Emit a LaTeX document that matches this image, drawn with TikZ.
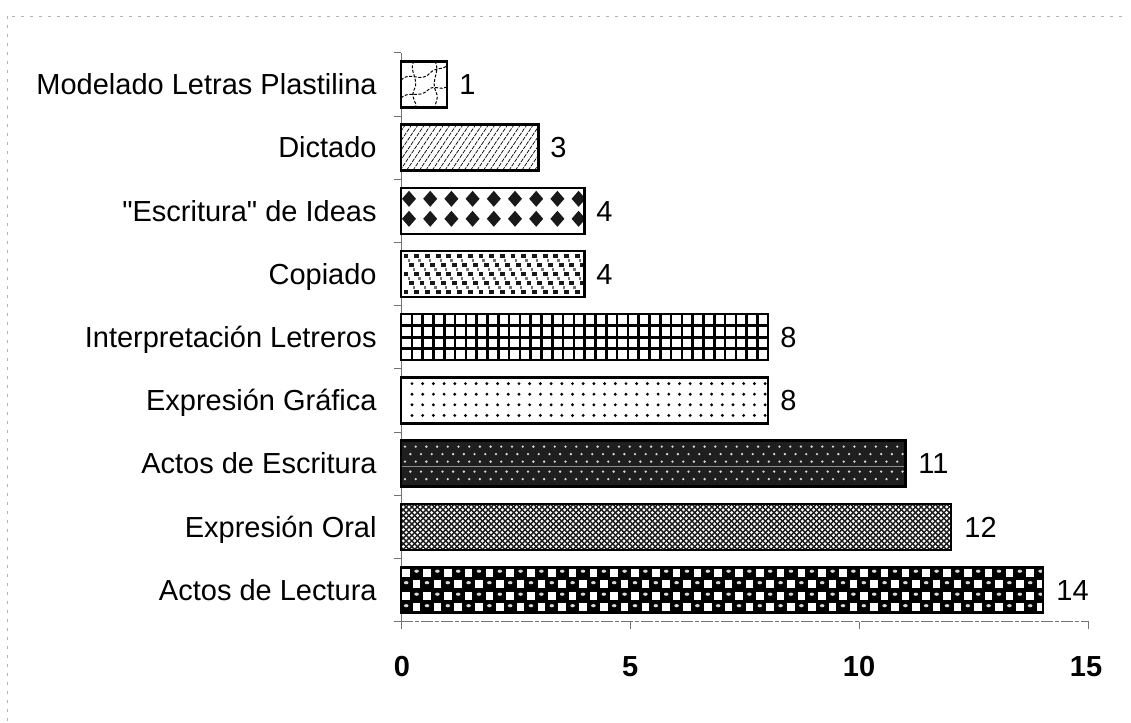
\documentclass[tikz,border=0pt]{standalone}
\usepackage{fontspec}
\setmainfont{Liberation Sans}[Ligatures=TeXOff]
\begin{document}
\begin{tikzpicture}[x=0.5pt,y=-0.5pt,
  lab/.style={anchor=base east,font=\fontsize{14.5}{16}\selectfont,inner sep=0pt},
  val/.style={anchor=base west,font=\fontsize{14.5}{16}\selectfont,inner sep=0pt},
  ticklab/.style={anchor=base,font=\fontsize{14.5}{16}\selectfont\bfseries,inner sep=0pt},
  barline/.style={draw=black,line width=1.25pt},
  axisline/.style={draw=black!55,line width=0.5pt},
  frameline/.style={draw=black!30,line width=0.5pt,dash pattern=on 1.5pt off 3pt},
  hatch/.style={draw=black,line width=0.35pt,dash pattern=on 2pt off 0.6pt}]
\useasboundingbox (0,0) rectangle (1131,723);

% faint frame of the scan
\draw[frameline] (12,16) -- (1128,16);
\draw[frameline] (7,16) -- (7,723);

% ---------- axes ----------
\draw[axisline] (401,52.8) -- (401,621.6);
\foreach \k in {0,...,9}
  \draw[axisline] (394,{52.8+\k*63.2}) -- (401,{52.8+\k*63.2});
\draw[axisline,dash pattern=on 6pt off 1pt on 2pt off 1pt] (401,621.6) -- (1088.8,621.6);
\foreach \t in {401,630.3,859.5,1088.8}
  \draw[axisline] (\t,621.6) -- (\t,629);

% ---------- bar 0: Modelado (1) ----------
\begin{scope}
\clip (401,61.4) rectangle (446.85,107.4);
\draw[black,line width=0.5pt,dash pattern=on 1.5pt off 0.8pt]
  (401,80) .. controls (411,70) and (420,84) .. (430,73) .. controls (436,67) and (442,70) .. (447,66)
  (401,98) .. controls (409,90) and (419,99) .. (428,90) .. controls (434,84) and (441,91) .. (447,87)
  (414,61) .. controls (408,70) and (420,80) .. (414,90) .. controls (410,99) and (418,103) .. (416,108)
  (435,61) .. controls (441,72) and (430,80) .. (436,92) .. controls (440,100) and (433,104) .. (436,108);
\end{scope}
\draw[barline] (401,61.4) rectangle (446.85,107.4);

% ---------- bar 1: Dictado (3) ----------
\begin{scope}
\clip (401,124.6) rectangle (538.55,170.6);
\foreach \i in {0,...,27}
  \draw[hatch] ({368+\i*6.4},170.6) -- ++(31,-46);
\end{scope}
\draw[barline] (401,124.6) rectangle (538.55,170.6);

% ---------- bar 2: "Escritura" de Ideas (4) ----------
\begin{scope}
\clip (401,187.8) rectangle (584.4,233.8);
\foreach \c in {0,...,8}
  \foreach \y in {198.8,218.8}
    \fill[black!90] ({409+\c*21.2},\y-8) -- ++(7,8) -- ++(-7,8) -- ++(-7,-8) -- cycle;
\end{scope}
\draw[barline] (401,187.8) rectangle (584.4,233.8);

% ---------- bar 3: Copiado (4) ----------
\begin{scope}
\clip (401,251) rectangle (584.4,297);
\foreach \y/\off in {256/0,265/5.35,274/0,283/5.35,292/0}
  \foreach \c in {0,...,17}
    \fill[black!90] ({406+\c*10.7+\off-2.4},\y-2.4) rectangle ++(4.8,4.8);
\foreach \y/\off in {260.5/2.7,269.5/8,278.5/2.7,287.5/8}
  \foreach \c in {0,...,17}
    \fill[black!55] ({406+\c*10.7+\off-1.2},\y-1.2) rectangle ++(2.4,2.4);
\end{scope}
\draw[barline] (401,251) rectangle (584.4,297);

% ---------- bar 4: Interpretación Letreros (8) ----------
\begin{scope}
\clip (401,314.2) rectangle (767.8,360.2);
\foreach \c in {1,...,34}
  \draw[black,line width=1.3pt] ({401+\c*10.8},314.2) -- ++(0,46);
\foreach \r in {1,2,3}
  \draw[black,line width=1.3pt] (401,{314.2+\r*11.5}) -- (767.8,{314.2+\r*11.5});
\end{scope}
\draw[barline] (401,314.2) rectangle (767.8,360.2);

% ---------- bar 5: Expresión Gráfica (8) ----------
\begin{scope}
\clip (401,377.4) rectangle (767.8,423.4);
\foreach \r in {0,...,3}
  \foreach \c in {0,...,33}
    \fill[black] ({412+\c*10.7},{383.6+\r*10.6}) circle (1.6);
\end{scope}
\draw[barline] (401,377.4) rectangle (767.8,423.4);

% ---------- bar 6: Actos de Escritura (11) ----------
\begin{scope}
\clip (401,440.6) rectangle (905.35,486.6);
\fill[black!88] (401,440.6) rectangle (905.35,486.6);
\foreach \dy/\off in {6/0,13.5/5.35,21/0,31/5.35,38.5/0}
  \foreach \c in {0,...,47}
    \fill[black!15] ({405+\c*10.7+\off},{440.6+\dy}) circle (1.3);
\draw[black!45,line width=0.6pt] (401,466.6) -- (905.35,466.6);
\end{scope}
\draw[barline] (401,440.6) rectangle (905.35,486.6);

% ---------- bar 7: Expresión Oral (12) ----------
\begin{scope}
\clip (401,503.8) rectangle (951.2,549.8);
\foreach \x in {352,357.66,...,955}
  \draw[black!90,line width=0.7pt] (\x,549.8) -- ++(46,-46);
\foreach \x in {352,357.66,...,955}
  \draw[black!90,line width=0.7pt] (\x,503.8) -- ++(46,46);
\end{scope}
\draw[barline] (401,503.8) rectangle (951.2,549.8);

% ---------- bar 8: Actos de Lectura (14) ----------
\begin{scope}
\clip (401,567) rectangle (1042.9,613);
\fill[black] (401,567) rectangle (1042.9,613);
\foreach \r in {0,...,3}
  \foreach \c in {0,...,61} {
    \pgfmathtruncatemacro\cellparity{mod(\r+\c,2)}
    \ifnum\cellparity=0
      \fill[white] ({401+\c*10.4+1.4},{567+\r*11.5+1.6}) rectangle ++(7.6,8.3);
    \else
      \fill[white!85!black] ({401+\c*10.4+5.2},{567+\r*11.5+4.2}) circle [x radius=2.3, y radius=1.6];
    \fi
  }
\end{scope}
\draw[barline] (401,567) rectangle (1042.9,613);

% ---------- category labels ----------
\node[lab] (l0) at (377,94.6)  {Modelado Letras Plastilina};
\node[lab] (l1) at (377,157.8) {Dictado};
\node[lab] (l2) at (377,221)   {"Escritura" de Ideas};
\node[lab] (l3) at (377,284.2) {Copiado};
\node[lab] (l4) at (377,347.4) {Interpretación Letreros};
\node[lab] (l5) at (377,410.6) {Expresión Gráfica};
\node[lab] (l6) at (377,473.8) {Actos de Escritura};
\node[lab] (l7) at (377,537)   {Expresión Oral};
\node[lab] (l8) at (377,600.2) {Actos de Lectura};

% ---------- value labels ----------
\node[val] (v0) at (459,94.6)   {1};
\node[val] (v1) at (550,157.8) {3};
\node[val] (v2) at (596,221)   {4};
\node[val] (v3) at (596,284.2) {4};
\node[val] (v4) at (780,347.4)   {8};
\node[val] (v5) at (780,410.6)   {8};
\node[val] (v6) at (918,473.8)   {11};
\node[val] (v7) at (964,537)     {12};
\node[val] (v8) at (1056,600.2)  {14};

% ---------- axis tick labels ----------
\node[ticklab] (t0) at (402,676)   {0};
\node[ticklab] (t1) at (630.3,676) {5};
\node[ticklab] (t2) at (859,676)   {10};
\node[ticklab] (t3) at (1086,676)  {15};
\end{tikzpicture}
\end{document}
